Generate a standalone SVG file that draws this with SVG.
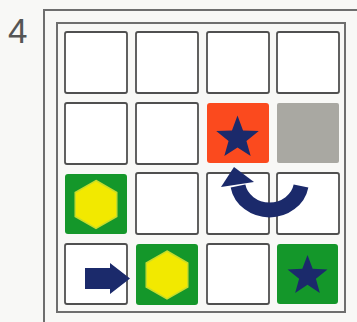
<svg xmlns="http://www.w3.org/2000/svg" width="357" height="322" viewBox="0 0 357 322">
  <style>
    .cell { fill: #ffffff; stroke: #505050; stroke-width: 1.8; }
    .frame { fill: none; stroke: #6e6e6e; stroke-width: 2; }
    .navy { fill: #1b2a6b; }
    .hex { fill: #f2e900; stroke: #c6dc2a; stroke-width: 1.5; }
    .green { fill: #14972a; }
    .label { font-family: "Liberation Sans", Arial, sans-serif; font-size: 35px; fill: #555555; }
  </style>
  <defs>
    <polygon id="star" points="0,-20 4.94,-6.8 19.02,-6.18 7.99,2.6 11.76,16.18 0,8.4 -11.76,16.18 -7.99,2.6 -19.02,-6.18 -4.94,-6.8"/>
    <polygon id="hexagon" points="0,-24 20.78,-12 20.78,12 0,24 -20.78,12 -20.78,-12"/>
  </defs>
  <rect width="357" height="322" fill="#f8f8f6"/>
  <text class="label" x="8" y="43">4</text>
  <g id="frames">
    <path class="frame" d="M357 10 H44 V322" stroke-width="1.6"/>
    <rect class="frame" x="57" y="23" width="288" height="289" fill="#fbfbfa"/>
  </g>
  <g id="cells">
    <g id="r1c1"><rect class="cell" x="65" y="32" width="62" height="61" rx="2"/></g>
    <g id="r1c2"><rect class="cell" x="136" y="32" width="62" height="61" rx="2"/></g>
    <g id="r1c3"><rect class="cell" x="207" y="32" width="62" height="61" rx="2"/></g>
    <g id="r1c4"><rect class="cell" x="277" y="32" width="62" height="61" rx="2"/></g>
    <g id="r2c1"><rect class="cell" x="65" y="103" width="62" height="61" rx="2"/></g>
    <g id="r2c2"><rect class="cell" x="136" y="103" width="62" height="61" rx="2"/></g>
    <g id="r2c3">
      <rect x="207" y="103" width="62" height="60" rx="3" fill="#fb4a1e"/>
      <use href="#star" class="navy" transform="translate(237.5 138) scale(1.12)"/>
    </g>
    <g id="r2c4"><rect x="277" y="103" width="62" height="60" rx="2" fill="#a9a8a2"/></g>
    <g id="r3c1">
      <rect class="green" x="65" y="174" width="62" height="60" rx="3"/>
      <use href="#hexagon" class="hex" transform="translate(96 204.5)"/>
    </g>
    <g id="r3c2"><rect class="cell" x="136" y="173" width="62" height="61" rx="2"/></g>
    <g id="r3c3"><rect class="cell" x="207" y="173" width="62" height="61" rx="2"/></g>
    <g id="r3c4"><rect class="cell" x="277" y="173" width="62" height="61" rx="2"/></g>
    <g id="r4c1"><rect class="cell" x="65" y="244" width="62" height="60" rx="2"/></g>
    <g id="r4c2">
      <rect class="green" x="136" y="244" width="62" height="61" rx="3"/>
      <use href="#hexagon" class="hex" transform="translate(167 275)"/>
    </g>
    <g id="r4c3"><rect class="cell" x="207" y="244" width="62" height="60" rx="2"/></g>
    <g id="r4c4">
      <rect class="green" x="277" y="244" width="61" height="60" rx="3"/>
      <use href="#star" class="navy" transform="translate(307.5 276) scale(1.05)"/>
    </g>
  </g>
  <g id="connectors">
    <polygon class="navy" points="85,268 110,268 110,263 130,278.5 110,294 110,289 85,289"/>
    <path d="M301 186 A32 29 0 0 1 238 186" fill="none" stroke="#1b2a6b" stroke-width="15"/>
    <polygon class="navy" points="234,167 254,182 221,187"/>
  </g>
</svg>
